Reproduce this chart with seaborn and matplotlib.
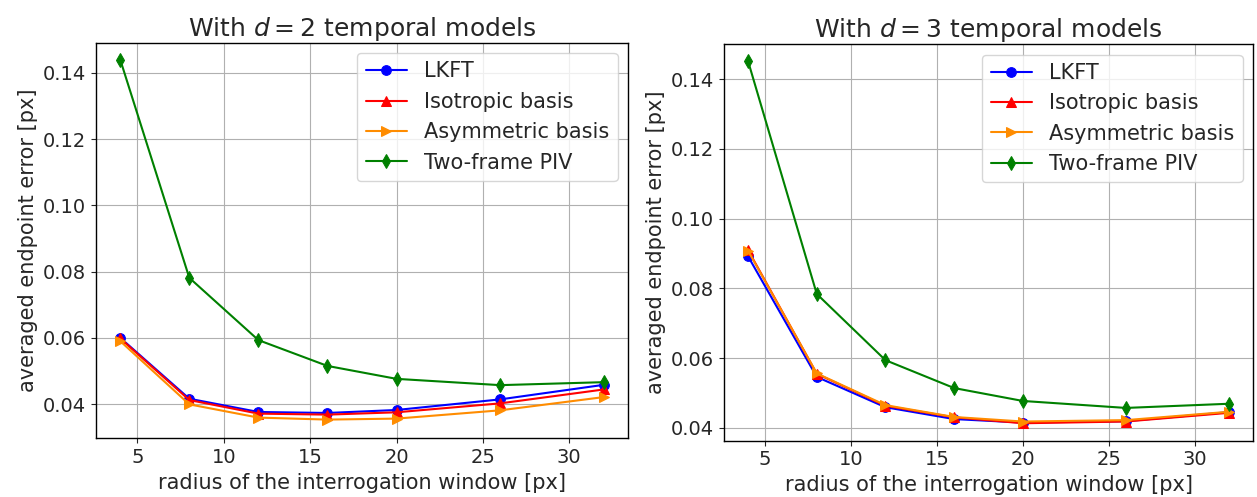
import numpy as np
import pandas as pd
import seaborn as sns
import matplotlib
matplotlib.use("Agg")
import matplotlib.pyplot as plt

radius = [4, 8, 12, 16, 20, 26, 32]

# d = 2
lkft_d2 = [0.0600, 0.0416, 0.0376, 0.0373, 0.0382, 0.0414, 0.0458]
iso_d2 = [0.0598, 0.0412, 0.0371, 0.0368, 0.0375, 0.0402, 0.0444]
asym_d2 = [0.0590, 0.0399, 0.0359, 0.0353, 0.0356, 0.0381, 0.0421]
piv_d2 = [0.1440, 0.0781, 0.0593, 0.0515, 0.0476, 0.0457, 0.0466]

# d = 3
lkft_d3 = [0.0892, 0.0546, 0.0459, 0.0425, 0.0415, 0.0419, 0.0445]
iso_d3 = [0.0910, 0.0555, 0.0463, 0.0430, 0.0413, 0.0418, 0.0443]
asym_d3 = [0.0908, 0.0556, 0.0465, 0.0431, 0.0418, 0.0422, 0.0446]
piv_d3 = [0.1452, 0.0784, 0.0594, 0.0514, 0.0477, 0.0457, 0.0469]

labels = ["LKFT", "Isotropic basis", "Asymmetric basis", "Two-frame PIV"]
colors = ["blue", "red", "darkorange", "green"]
markers = ["o", "^", ">", "d"]

sns.set_style("ticks")
plt.rcParams["font.family"] = ["DejaVu Sans"]

fig = plt.figure(figsize=(12.57, 4.97), dpi=100)
ax1 = fig.add_axes([0.0764, 0.1181, 0.4232, 0.796])
ax2 = fig.add_axes([0.576, 0.1133, 0.4208, 0.798])

panels = [
    (ax1, [lkft_d2, iso_d2, asym_d2, piv_d2], r"With $d=2$ temporal models"),
    (ax2, [lkft_d3, iso_d3, asym_d3, piv_d3], r"With $d=3$ temporal models"),
]

for ax, series, title in panels:
    for vals, lab, c, m in zip(series, labels, colors, markers):
        df = pd.DataFrame({"r": radius, "err": vals})
        sns.lineplot(data=df, x="r", y="err", ax=ax, color=c, marker=m,
                     markersize=7, markeredgecolor=c, linewidth=1.5, label=lab)
    ax.grid(True, color="#b0b0b0", linewidth=0.8)
    ax.set_title(title, fontsize=18, pad=5)
    ax.set_xlabel("radius of the interrogation window [px]", fontsize=15)
    ax.set_ylabel("averaged endpoint error [px]", fontsize=15)
    ax.set_xticks([5, 10, 15, 20, 25, 30])
    ax.set_yticks([0.04, 0.06, 0.08, 0.10, 0.12, 0.14])
    ax.set_yticklabels(["0.04", "0.06", "0.08", "0.10", "0.12", "0.14"])
    ax.tick_params(labelsize=14)
    for s in ax.spines.values():
        s.set_color("black")
        s.set_linewidth(1.0)
    ax.legend(loc="upper right", fontsize=15, frameon=True, labelspacing=0.5)

ax1.set_ylim(0.02965, 0.1491)
ax2.set_ylim(0.0363, 0.1501)

fig.savefig("out.png", dpi=100)
